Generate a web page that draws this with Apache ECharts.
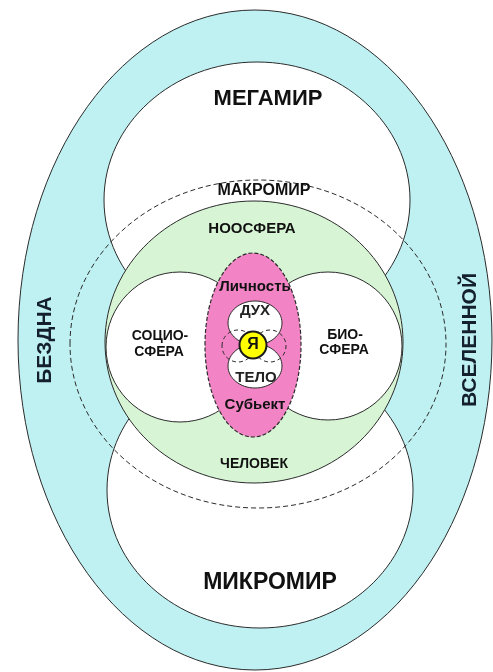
<!DOCTYPE html>
<html><head><meta charset="utf-8">
<script src="https://cdn.jsdelivr.net/npm/echarts@6/dist/echarts.min.js"></script>
<style>html,body{margin:0;padding:0;background:#fff}#c{width:493px;height:672px}</style>
</head><body><div id="c"></div>
<script>
// Regions of the diagram (ellipses): centre and radii in diagram units
const shapeNames = ['Вселенная','Мегамир','Микромир','Макромир','Ноосфера','Социосфера','Биосфера','Личность','Дух','Тело','ЯЛевый','ЯПравый','Я'];
const shapeCx = [255, 257, 260, 258, 254, 180, 328, 253, 255, 255, 238, 270, 253];
const shapeCy = [340, 200, 490, 344, 342, 347, 346, 345, 323, 366, 346, 346, 345];
const shapeRx = [237, 153, 153, 188, 149, 74, 74, 48, 27, 27, 16, 16, 13.5];
const shapeRy = [330, 138, 138, 164, 141, 75, 74, 92, 22, 22, 16, 16, 13.5];

// Labels
const labelTexts = ['МЕГАМИР','МАКРОМИР','НООСФЕРА','Личность','ДУХ','Я','ТЕЛО','Субьект','СОЦИО-','СФЕРА','БИО-','СФЕРА','ЧЕЛОВЕК','МИКРОМИР','БЕЗДНА','ВСЕЛЕННОЙ'];
const labelX = [268, 264, 252, 255, 255, 253, 256, 255, 160, 159, 345, 344, 254, 270, 45, 470];
const labelY = [99, 191, 229, 287, 311, 345, 378, 405, 336, 352, 335, 350, 464, 583, 340, 340];

// Styles (kept separate from the data)
const lineCol = '#2b2b2b';
const shapeStyles = {
  'Вселенная': {fill:'#bff1f3', stroke:lineCol, lineWidth:1},
  'Мегамир': {fill:'#ffffff', stroke:lineCol, lineWidth:1},
  'Микромир': {fill:'#ffffff', stroke:lineCol, lineWidth:1},
  'Макромир': {fill:'none', stroke:lineCol, lineWidth:1, lineDash:[5,3]},
  'Ноосфера': {fill:'#d7f5d5', stroke:lineCol, lineWidth:1},
  'Социосфера': {fill:'#ffffff', stroke:lineCol, lineWidth:1},
  'Биосфера': {fill:'#ffffff', stroke:lineCol, lineWidth:1},
  'Личность': {fill:'#f283c4', stroke:lineCol, lineWidth:1.2, lineDash:[4,2]},
  'Дух': {fill:'#ffffff', stroke:lineCol, lineWidth:1},
  'Тело': {fill:'#ffffff', stroke:lineCol, lineWidth:1},
  'ЯЛевый': {fill:'none', stroke:lineCol, lineWidth:1, lineDash:[4,3]},
  'ЯПравый': {fill:'none', stroke:lineCol, lineWidth:1, lineDash:[4,3]},
  'Я': {fill:'#ffff00', stroke:'#1a1a1a', lineWidth:2}
};
const labelStyles = [
  {size:22, weight:'bold'},
  {size:16, weight:'bold'},
  {size:15, weight:'bold'},
  {size:15, weight:'bold'},
  {size:15, weight:'bold', color:'#222222'},
  {size:16, weight:'bold'},
  {size:15, weight:'bold', color:'#222222'},
  {size:15, weight:'bold'},
  {size:14, weight:'bold'},
  {size:14, weight:'bold'},
  {size:14, weight:'bold'},
  {size:14, weight:'bold'},
  {size:14, weight:'bold'},
  {size:23, weight:'bold'},
  {size:21, weight:'bold', rot:Math.PI/2, color:'#14202e'},
  {size:21, weight:'bold', rot:Math.PI/2, color:'#14202e'}
];

const shapeData = shapeNames.map((n,i)=>[shapeCx[i], shapeCy[i], shapeRx[i], shapeRy[i], n]);
const labelData = labelTexts.map((t,i)=>[labelX[i], labelY[i], t, i]);

const chart = echarts.init(document.getElementById('c'), null, {renderer:'canvas'});
chart.setOption({
  animation:false,
  backgroundColor:'#ffffff',
  grid:{left:0,right:0,top:0,bottom:0},
  xAxis:{type:'value', min:0, max:493, show:false},
  yAxis:{type:'value', min:0, max:672, inverse:true, show:false},
  series:[
    {
      type:'custom', silent:true,
      encode:{x:0, y:1},
      data:shapeData,
      renderItem:function(params, api){
        const c = api.coord([api.value(0), api.value(1)]);
        const s = api.size([api.value(2), api.value(3)]);
        const st = shapeStyles[shapeNames[params.dataIndex]];
        return {
          type:'ellipse',
          shape:{cx:c[0], cy:c[1], rx:s[0], ry:s[1]},
          style:{fill:st.fill, stroke:st.stroke, lineWidth:st.lineWidth, lineDash:st.lineDash || null}
        };
      }
    },
    {
      type:'custom', silent:true,
      encode:{x:0, y:1},
      data:labelData,
      renderItem:function(params, api){
        const c = api.coord([api.value(0), api.value(1)]);
        const i = params.dataIndex;
        const ls = labelStyles[i];
        return {
          type:'text',
          x:c[0], y:c[1], rotation:ls.rot || 0,
          style:{
            text:labelTexts[i],
            fontFamily:'"Liberation Sans", Arial, sans-serif',
            fontSize:ls.size, fontWeight:ls.weight,
            fill:ls.color || '#111111',
            align:'center', verticalAlign:'middle'
          }
        };
      }
    }
  ]
});
</script>
</body></html>
